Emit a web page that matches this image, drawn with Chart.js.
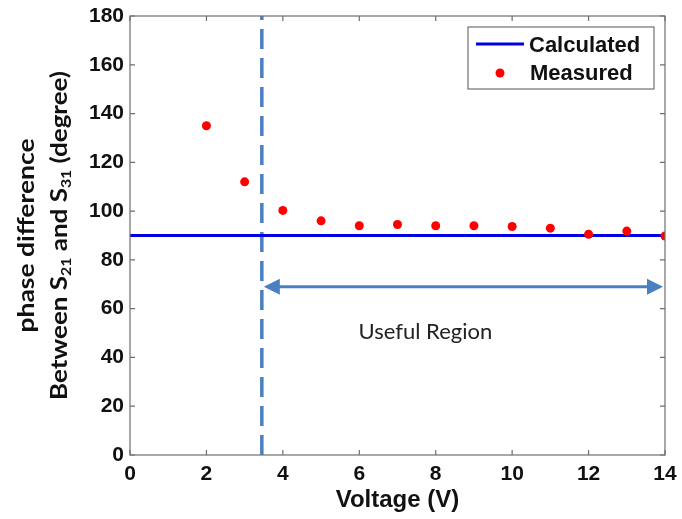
<!DOCTYPE html>
<html>
<head>
<meta charset="utf-8">
<script src="https://cdn.jsdelivr.net/npm/chart.js@4/dist/chart.umd.min.js"></script>
<style>
  html, body { margin: 0; padding: 0; background: #fff; }
  #wrap { width: 682px; height: 519px; position: relative; }
</style>
</head>
<body>
<div id="wrap"><canvas id="chart"></canvas></div>
<script>
// ── Data ─────────────────────────────────────────────────────────────────────
const voltages     = [2, 3, 4, 5, 6, 7, 8, 9, 10, 11, 12, 13, 14];
const measured     = [135, 112, 100.3, 96, 94, 94.5, 94, 94, 93.7, 93, 90.5, 91.8, 89.8];
const calcX        = [0, 14];
const calcY        = [90, 90];
const xTicks       = [0, 2, 4, 6, 8, 10, 12, 14];
const yTicks       = [0, 20, 40, 60, 80, 100, 120, 140, 160, 180];
const regionStart  = 3.45;   // dashed boundary (V)
const regionEnd    = 14;
const arrowLevel   = 69;     // degree
const regionLabel  = 'Useful Region';

const FONT  = '"Liberation Sans", Arial, sans-serif';
const HUMAN = 'Lato, "Open Sans", sans-serif';
const BLUE_SOFT = '#4a7fc1';

// draw a run of [text, isSubscript] pieces centred on 0, stretched to a length
function drawRuns(ctx, parts, base, size, len) {
  const big = 'bold ' + size + 'px ' + HUMAN;
  const small = 'bold ' + Math.round(size * 0.62) + 'px ' + HUMAN;
  let total = 0;
  parts.forEach(([t, sub]) => { ctx.font = sub ? small : big; total += ctx.measureText(t).width; });
  ctx.save();
  ctx.scale(len / total, 1);
  let cx = -total / 2;
  ctx.textAlign = 'left';
  parts.forEach(([t, sub]) => {
    ctx.font = sub ? small : big;
    ctx.fillText(t, cx, sub ? base + 4 : base);
    cx += ctx.measureText(t).width;
  });
  ctx.restore();
}

// ── Plugin: box, inner ticks, arrow, labels, legend ─────────────────────────
const decor = {
  id: 'decor',
  afterDatasetsDraw(chart) {
    const { ctx, chartArea: a, scales: { x, y } } = chart;
    ctx.save();

    // box
    ctx.strokeStyle = '#6e6e6e';
    ctx.lineWidth = 1.2;
    ctx.strokeRect(a.left, a.top, a.right - a.left, a.bottom - a.top);

    // inner ticks (all four sides)
    ctx.beginPath();
    xTicks.forEach(v => {
      const px = x.getPixelForValue(v);
      ctx.moveTo(px, a.bottom); ctx.lineTo(px, a.bottom - 5);
      ctx.moveTo(px, a.top);    ctx.lineTo(px, a.top + 5);
    });
    yTicks.forEach(v => {
      const py = y.getPixelForValue(v);
      ctx.moveTo(a.left, py);  ctx.lineTo(a.left + 5, py);
      ctx.moveTo(a.right, py); ctx.lineTo(a.right - 5, py);
    });
    ctx.stroke();

    // double arrow
    const ax1 = x.getPixelForValue(regionStart) + 2;
    const ax2 = x.getPixelForValue(regionEnd) - 2;
    const ay  = y.getPixelForValue(arrowLevel);
    ctx.strokeStyle = BLUE_SOFT;
    ctx.fillStyle = BLUE_SOFT;
    ctx.lineWidth = 3;
    ctx.beginPath();
    ctx.moveTo(ax1 + 10, ay); ctx.lineTo(ax2 - 10, ay);
    ctx.stroke();
    ctx.beginPath();
    ctx.moveTo(ax1, ay); ctx.lineTo(ax1 + 16, ay - 8); ctx.lineTo(ax1 + 16, ay + 8); ctx.closePath();
    ctx.moveTo(ax2, ay); ctx.lineTo(ax2 - 16, ay - 8); ctx.lineTo(ax2 - 16, ay + 8); ctx.closePath();
    ctx.fill();

    // region label
    ctx.fillStyle = '#222';
    ctx.font = '22px ' + HUMAN;
    ctx.textAlign = 'center';
    ctx.textBaseline = 'middle';
    ctx.fillText(regionLabel, x.getPixelForValue(7.73), ay + 45);

    // legend
    const lx = 468, ly = 27, lw = 186, lh = 62;
    ctx.fillStyle = '#fff';
    ctx.fillRect(lx, ly, lw, lh);
    ctx.strokeStyle = '#555';
    ctx.lineWidth = 1;
    ctx.strokeRect(lx, ly, lw, lh);
    ctx.strokeStyle = '#0000e6';
    ctx.lineWidth = 3;
    ctx.beginPath(); ctx.moveTo(476, 44); ctx.lineTo(524, 44); ctx.stroke();
    ctx.fillStyle = '#ff0000';
    ctx.beginPath(); ctx.arc(500, 73, 4.5, 0, Math.PI * 2); ctx.fill();
    ctx.fillStyle = '#111';
    ctx.font = 'bold 22px ' + FONT;
    ctx.textAlign = 'left';
    ctx.fillText('Calculated', 529, 46);
    ctx.fillText('Measured', 530, 74);

    // y-axis title (two lines, with subscripts)
    const cy = (a.top + a.bottom) / 2;
    ctx.translate(0, cy);
    ctx.rotate(-Math.PI / 2);
    ctx.fillStyle = '#111';
    ctx.textBaseline = 'alphabetic';
    drawRuns(ctx, [['phase difference', false]], 34, 23, 194);
    drawRuns(ctx, [
      ['Between S', false], ['21', true], [' and S', false], ['31', true], [' (degree)', false]
    ], 67, 23, 329);
    ctx.restore();
  }
};

new Chart(document.getElementById('chart'), {
  type: 'scatter',
  data: {
    datasets: [
      {
        label: 'Calculated',
        type: 'line',
        data: calcX.map((v, i) => ({ x: v, y: calcY[i] })),
        borderColor: '#0000e6',
        borderWidth: 3,
        pointRadius: 0,
        order: 2
      },
      {
        label: 'Measured',
        data: voltages.map((v, i) => ({ x: v, y: measured[i] })),
        backgroundColor: '#ff0000',
        borderColor: '#ff0000',
        pointRadius: 4.5,
        borderWidth: 0,
        order: 1
      },
      {
        label: 'boundary',
        type: 'line',
        data: [{ x: regionStart, y: 0 }, { x: regionStart, y: 180 }],
        borderColor: BLUE_SOFT,
        borderWidth: 3.5,
        borderDash: [20, 9],
        pointRadius: 0,
        order: 3
      }
    ]
  },
  options: {
    responsive: true,
    maintainAspectRatio: false,
    animation: false,
    layout: { padding: { left: 0, right: 17, top: 16, bottom: 0 } },
    plugins: { legend: { display: false }, tooltip: { enabled: false } },
    scales: {
      x: {
        type: 'linear',
        min: 0, max: 14,
        afterBuildTicks: s => { s.ticks = xTicks.map(v => ({ value: v })); },
        afterFit: s => { s.height = 64; s.paddingLeft = 0; s.paddingRight = 0; },
        grid: { display: false, drawTicks: false },
        border: { display: false },
        ticks: { color: '#111', padding: 7, font: { family: FONT, size: 21, weight: 'bold' } },
        title: {
          display: true, text: 'Voltage (V)', color: '#111', padding: { top: 0, bottom: 4 },
          font: { family: FONT, size: 24, weight: 'bold' }
        }
      },
      y: {
        min: 0, max: 180,
        afterBuildTicks: s => { s.ticks = yTicks.map(v => ({ value: v })); },
        afterFit: s => { s.width = 130; s.paddingTop = 0; s.paddingBottom = 0; },
        grid: { display: false, drawTicks: false },
        border: { display: false },
        ticks: { color: '#111', padding: 6, font: { family: FONT, size: 21, weight: 'bold' } }
      }
    }
  },
  plugins: [decor]
});
</script>
</body>
</html>
